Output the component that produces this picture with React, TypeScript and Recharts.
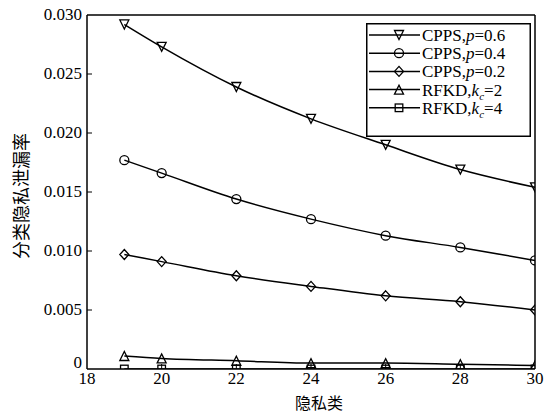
import React from "react";
import { LineChart, Line, XAxis, YAxis, ReferenceLine } from "recharts";

const classes = [19, 20, 22, 24, 26, 28, 30];
const cppsP06 = [0.0292, 0.0273, 0.0239, 0.0212, 0.019, 0.0169, 0.0154];
const cppsP04 = [0.0177, 0.0166, 0.0144, 0.0127, 0.0113, 0.0103, 0.0092];
const cppsP02 = [0.0097, 0.0091, 0.0079, 0.007, 0.0062, 0.0057, 0.005];
const rfkdK2 = [0.0011, 0.0009, 0.0007, 0.0005, 0.0005, 0.0004, 0.0003];
const rfkdK4 = [0, 0, 0, 0, 0, 0, 0];

const xTicks = [18, 20, 22, 24, 26, 28, 30];
const yTicks = [0, 0.005, 0.01, 0.015, 0.02, 0.025, 0.03];

const data = classes.map((c, i) => ({
  c,
  p06: cppsP06[i],
  p04: cppsP04[i],
  p02: cppsP02[i],
  k2: rfkdK2[i],
  k4: rfkdK4[i],
}));

const SERIF = "'Liberation Serif', 'DejaVu Serif', serif";
const CJK = "'Noto Sans CJK SC', sans-serif";

type Shape = "tdown" | "circle" | "diamond" | "tup" | "square";

function Marker({ cx, cy, shape }: { cx: number; cy: number; shape: Shape }) {
  const s = 4.5;
  const common = { fill: "none", stroke: "#000", strokeWidth: 1.3 };
  switch (shape) {
    case "tdown":
      return (
        <polygon
          {...common}
          points={`${cx - s},${cy - s} ${cx + s},${cy - s} ${cx},${cy + s}`}
        />
      );
    case "tup":
      return (
        <polygon
          {...common}
          points={`${cx - s},${cy + s} ${cx + s},${cy + s} ${cx},${cy - s}`}
        />
      );
    case "circle":
      return <circle {...common} cx={cx} cy={cy} r={s} />;
    case "diamond":
      return (
        <polygon
          {...common}
          points={`${cx},${cy - s - 0.5} ${cx + s},${cy} ${cx},${cy + s + 0.5} ${cx - s},${cy}`}
        />
      );
    default:
      return (
        <rect {...common} x={cx - 3.8} y={cy - 3.8} width={7.6} height={7.6} />
      );
  }
}

const makeDot = (shape: Shape) => (props: any) => {
  const { cx, cy, index } = props;
  if (cx == null || cy == null) return <g key={index} />;
  return (
    <g key={`${shape}-${index}`}>
      <Marker cx={cx} cy={cy} shape={shape} />
    </g>
  );
};

function YTick(props: any) {
  const { x, y, payload } = props;
  const v = payload.value as number;
  const label = v === 0 ? "0" : v.toFixed(3);
  return (
    <g>
      <text
        x={x - 1}
        y={v === 0 ? y - 6 : y}
        dy={5}
        textAnchor="end"
        style={{ fontFamily: SERIF, fontSize: 17 }}
        fill="#000"
      >
        {label}
      </text>
      {v !== 0 && v !== 0.03 && (
        <line x1={87} x2={92} y1={y} y2={y} stroke="#000" strokeWidth={1} />
      )}
    </g>
  );
}

function XTick(props: any) {
  const { x, y, payload } = props;
  return (
    <g>
      <text
        x={x}
        y={y}
        dy={12}
        textAnchor="middle"
        style={{ fontFamily: SERIF, fontSize: 17 }}
        fill="#000"
      >
        {payload.value}
      </text>
      {payload.value !== 18 && payload.value !== 30 && (
        <line x1={x} x2={x} y1={369} y2={364} stroke="#000" strokeWidth={1} />
      )}
    </g>
  );
}

const legendItems: { shape: Shape; name: string; sub?: string; rest: string; italic: string }[] = [
  { shape: "tdown", name: "CPPS,", italic: "p", rest: "=0.6" },
  { shape: "circle", name: "CPPS,", italic: "p", rest: "=0.4" },
  { shape: "diamond", name: "CPPS,", italic: "p", rest: "=0.2" },
  { shape: "tup", name: "RFKD,", italic: "k", sub: "c", rest: "=2" },
  { shape: "square", name: "RFKD,", italic: "k", sub: "c", rest: "=4" },
];

function ChartLegend() {
  return (
    <svg width={165} height={114} style={{ display: "block" }}>
      <rect x={0.75} y={0.75} width={163.5} height={112.5} fill="#fff" stroke="#000" strokeWidth={1.5} />
      {legendItems.map((it, i) => {
        const cy = 12 + i * 18.2;
        return (
          <g key={i}>
            <line x1={3} x2={54} y1={cy} y2={cy} stroke="#000" strokeWidth={1.5} />
            <Marker cx={33} cy={cy} shape={it.shape} />
            <text x={56} y={cy + 6} style={{ fontFamily: SERIF, fontSize: 17 }} fill="#000">
              {it.name}
              <tspan fontStyle="italic">{it.italic}</tspan>
              {it.sub && (
                <tspan fontStyle="italic" fontSize={11} dy={4}>
                  {it.sub}
                </tspan>
              )}
              <tspan dy={it.sub ? -4 : 0}>{it.rest}</tspan>
            </text>
          </g>
        );
      })}
    </svg>
  );
}

export default function App() {
  return (
    <div
      style={{
        position: "absolute",
        left: 0,
        top: 0,
        width: 552,
        height: 413,
        background: "#fff",
      }}
    >
      <LineChart
        width={552}
        height={413}
        data={data}
        margin={{ top: 15, right: 17, bottom: 0, left: 0 }}
      >
        <XAxis
          dataKey="c"
          type="number"
          domain={[18, 30]}
          ticks={xTicks}
          allowDataOverflow
          height={44}
          tickLine={false}
          tickSize={3}
          tickMargin={0}
          axisLine={{ stroke: "#000", strokeWidth: 1.5 }}
          tick={<XTick />}
          label={{
            value: "隐私类",
            position: "insideBottom",
            offset: 4,
            dx: 8,
            style: { fontFamily: CJK, fontSize: 16, fill: "#000" },
          }}
        />
        <YAxis
          type="number"
          domain={[0, 0.03]}
          ticks={yTicks}
          allowDataOverflow
          width={87}
          tickLine={false}
          tickSize={4}
          tickMargin={0}
          axisLine={{ stroke: "#000", strokeWidth: 1.5 }}
          tick={<YTick />}
          label={{
            value: "分类隐私泄漏率",
            angle: -90,
            position: "insideLeft",
            offset: 22,
            dy: 4,
            style: { fontFamily: CJK, fontSize: 18, fill: "#000", textAnchor: "middle" },
          }}
        />
        <ReferenceLine y={0.03} stroke="#000" strokeWidth={1.5} />
        <ReferenceLine x={30} stroke="#000" strokeWidth={1.5} />
        <Line type="monotone" dataKey="k4" stroke="#000" strokeWidth={1.5} dot={makeDot("square")} isAnimationActive={false} />
        <Line type="monotone" dataKey="k2" stroke="#000" strokeWidth={1.5} dot={makeDot("tup")} isAnimationActive={false} />
        <Line type="monotone" dataKey="p02" stroke="#000" strokeWidth={1.5} dot={makeDot("diamond")} isAnimationActive={false} />
        <Line type="monotone" dataKey="p04" stroke="#000" strokeWidth={1.5} dot={makeDot("circle")} isAnimationActive={false} />
        <Line type="monotone" dataKey="p06" stroke="#000" strokeWidth={1.5} dot={makeDot("tdown")} isAnimationActive={false} />
      </LineChart>
      <div style={{ position: "absolute", left: 366, top: 23 }}>
        <ChartLegend />
      </div>
    </div>
  );
}
